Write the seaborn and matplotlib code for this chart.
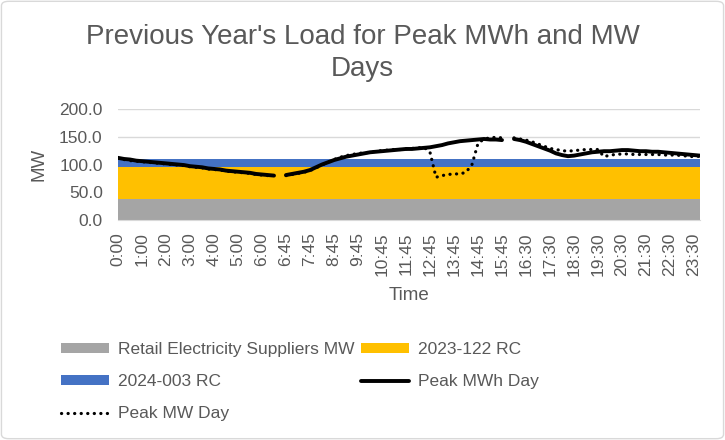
import numpy as np
import pandas as pd
import matplotlib
matplotlib.use("Agg")
import matplotlib.pyplot as plt
import matplotlib.patches as mpatches
from matplotlib.lines import Line2D
import seaborn as sns

# 15-minute intervals; two blank slots in the source sheet (after 6:30 and after 15:45)
times = [f"{h}:{m:02d}" for h in range(24) for m in (0, 15, 30, 45)]
times.insert(27, "")
times.insert(65, "")

retail_mw_level = 38.0
rc_2023_122_level = 57.0
rc_2024_003_level = 15.0

nan = np.nan
peak_mwh_day = [
    112, 110, 109, 107, 106, 105, 104, 103, 102, 101, 100, 99, 97, 96, 95, 93,
    92, 91, 89, 88, 87, 86, 85, 83, 82, 81, 80,
    nan,
    81, 83, 85, 87, 90, 95, 100, 104, 108, 111, 114, 116, 118, 120, 122, 123,
    124, 125, 126, 127, 128, 128, 129, 130, 131, 133, 135, 138, 140, 142, 143,
    144, 145, 146, 145, 145, 144,
    nan,
    146, 144, 141, 137, 133, 129, 125, 120, 117, 115, 116, 118, 120, 122, 123,
    124, 124, 125, 126, 126, 125, 124, 124, 123, 123, 122, 121, 120, 119, 118,
    117, 116,
]
peak_mw_day = [
    111, 109, 107, 106, 105, 104, 103, 102, 101, 100, 99, 98, 96, 95, 94, 92,
    91, 90, 88, 87, 86, 85, 84, 82, 81, 80, 79,
    nan,
    80, 82, 84, 86, 89, 94, 99, 104, 109, 113, 116, 118, 120, 121, 122, 124,
    125, 126, 127, 127, 128, 129, 130, 131, 122, 77, 80, 82, 83, 83, 86,
    100, 138, 146, 148, 149, 148,
    nan,
    148, 146, 144, 141, 137, 133, 129, 127, 125, 124, 125, 126, 127, 127, 127,
    114, 117, 118, 119, 119, 118, 118, 118, 118, 118, 117, 117, 117, 116, 115,
    114, 115,
]

n = len(times)
idx = np.arange(n)
retail_mw = np.full(n, retail_mw_level)
rc_2023 = np.full(n, rc_2023_122_level)
rc_2024 = np.full(n, rc_2024_003_level)

c_gray = "#a5a5a5"
c_yellow = "#ffc000"
c_blue = "#4472c4"
c_text = "#595959"
c_grid = "#d9d9d9"

sns.set_style("white")
plt.rcParams["font.family"] = ["Liberation Sans", "DejaVu Sans"]

fig = plt.figure(figsize=(7.25, 4.4), dpi=100)
ax = fig.add_axes([118 / 725, 1 - 220 / 440, 582 / 725, 111 / 440])

ax.stackplot(idx, retail_mw, rc_2023, rc_2024,
             colors=[c_gray, c_yellow, c_blue], linewidth=0, zorder=2)


def segments(values):
    s = pd.Series(values, dtype=float)
    seg = s.isna().cumsum()
    df = pd.DataFrame({"idx": idx, "val": s, "seg": seg})
    return df.dropna()


dot_style = (0, (0.05, 2.0))
sns.lineplot(data=segments(peak_mwh_day), x="idx", y="val", units="seg",
             estimator=None, color="black", linewidth=2.8, ax=ax, zorder=4,
             solid_capstyle="round")
sns.lineplot(data=segments(peak_mw_day), x="idx", y="val", units="seg",
             estimator=None, color="black", linewidth=2.3, ax=ax, zorder=5,
             linestyle=dot_style, dash_capstyle="round")

ax.set_xlim(0, n - 1)
ax.set_ylim(0, 200)
ax.set_yticks([0, 50, 100, 150, 200])
ax.set_yticklabels([f"{v:.1f}" for v in [0, 50, 100, 150, 200]])
ax.yaxis.grid(True, color=c_grid, linewidth=1, zorder=0)
ax.set_axisbelow(True)
tick_pos = list(range(0, n - 1, 4))
ax.set_xticks(tick_pos)
ax.set_xticklabels([times[i] for i in tick_pos], rotation=90)
ax.tick_params(axis="both", length=0, labelsize=12.5, labelcolor=c_text)
ax.tick_params(axis="x", pad=9)
ax.tick_params(axis="y", pad=11)
for side in ["left", "right", "top"]:
    ax.spines[side].set_visible(False)
ax.spines["bottom"].set_color(c_grid)
ax.set_xlabel("Time", fontsize=13.5, color=c_text, labelpad=8)
ax.set_ylabel("MW", fontsize=13.5, color=c_text, labelpad=8)

fig.text(0.5, 1 - 53 / 440, "Previous Year's Load for Peak MWh and MW\nDays",
         ha="center", va="center", fontsize=20, color=c_text, linespacing=1.25)

handles = [
    mpatches.Patch(facecolor=c_gray, edgecolor="none"),
    mpatches.Patch(facecolor=c_blue, edgecolor="none"),
    Line2D([0], [0], color="black", linewidth=2.3, linestyle=dot_style,
           dash_capstyle="round"),
    mpatches.Patch(facecolor=c_yellow, edgecolor="none"),
    Line2D([0], [0], color="black", linewidth=2.8),
]
labels = ["Retail Electricity Suppliers MW", "2024-003 RC", "Peak MW Day",
          "2023-122 RC", "Peak MWh Day"]
leg = fig.legend(handles, labels, loc="upper left",
                 bbox_to_anchor=(61 / 725, 1 - 342 / 440), ncol=2,
                 frameon=False, fontsize=12.5, handlelength=2.76,
                 handleheight=0.46, handletextpad=0.5, columnspacing=0.4,
                 labelspacing=0.98, borderpad=0, borderaxespad=0)
for t in leg.get_texts():
    t.set_color(c_text)

fig.patches.append(mpatches.FancyBboxPatch(
    (0.002, 0.003), 0.996, 0.994, boxstyle="round,pad=0,rounding_size=0.01",
    transform=fig.transFigure, facecolor="none", edgecolor=c_grid, linewidth=1))

fig.savefig("out.png", dpi=100)
